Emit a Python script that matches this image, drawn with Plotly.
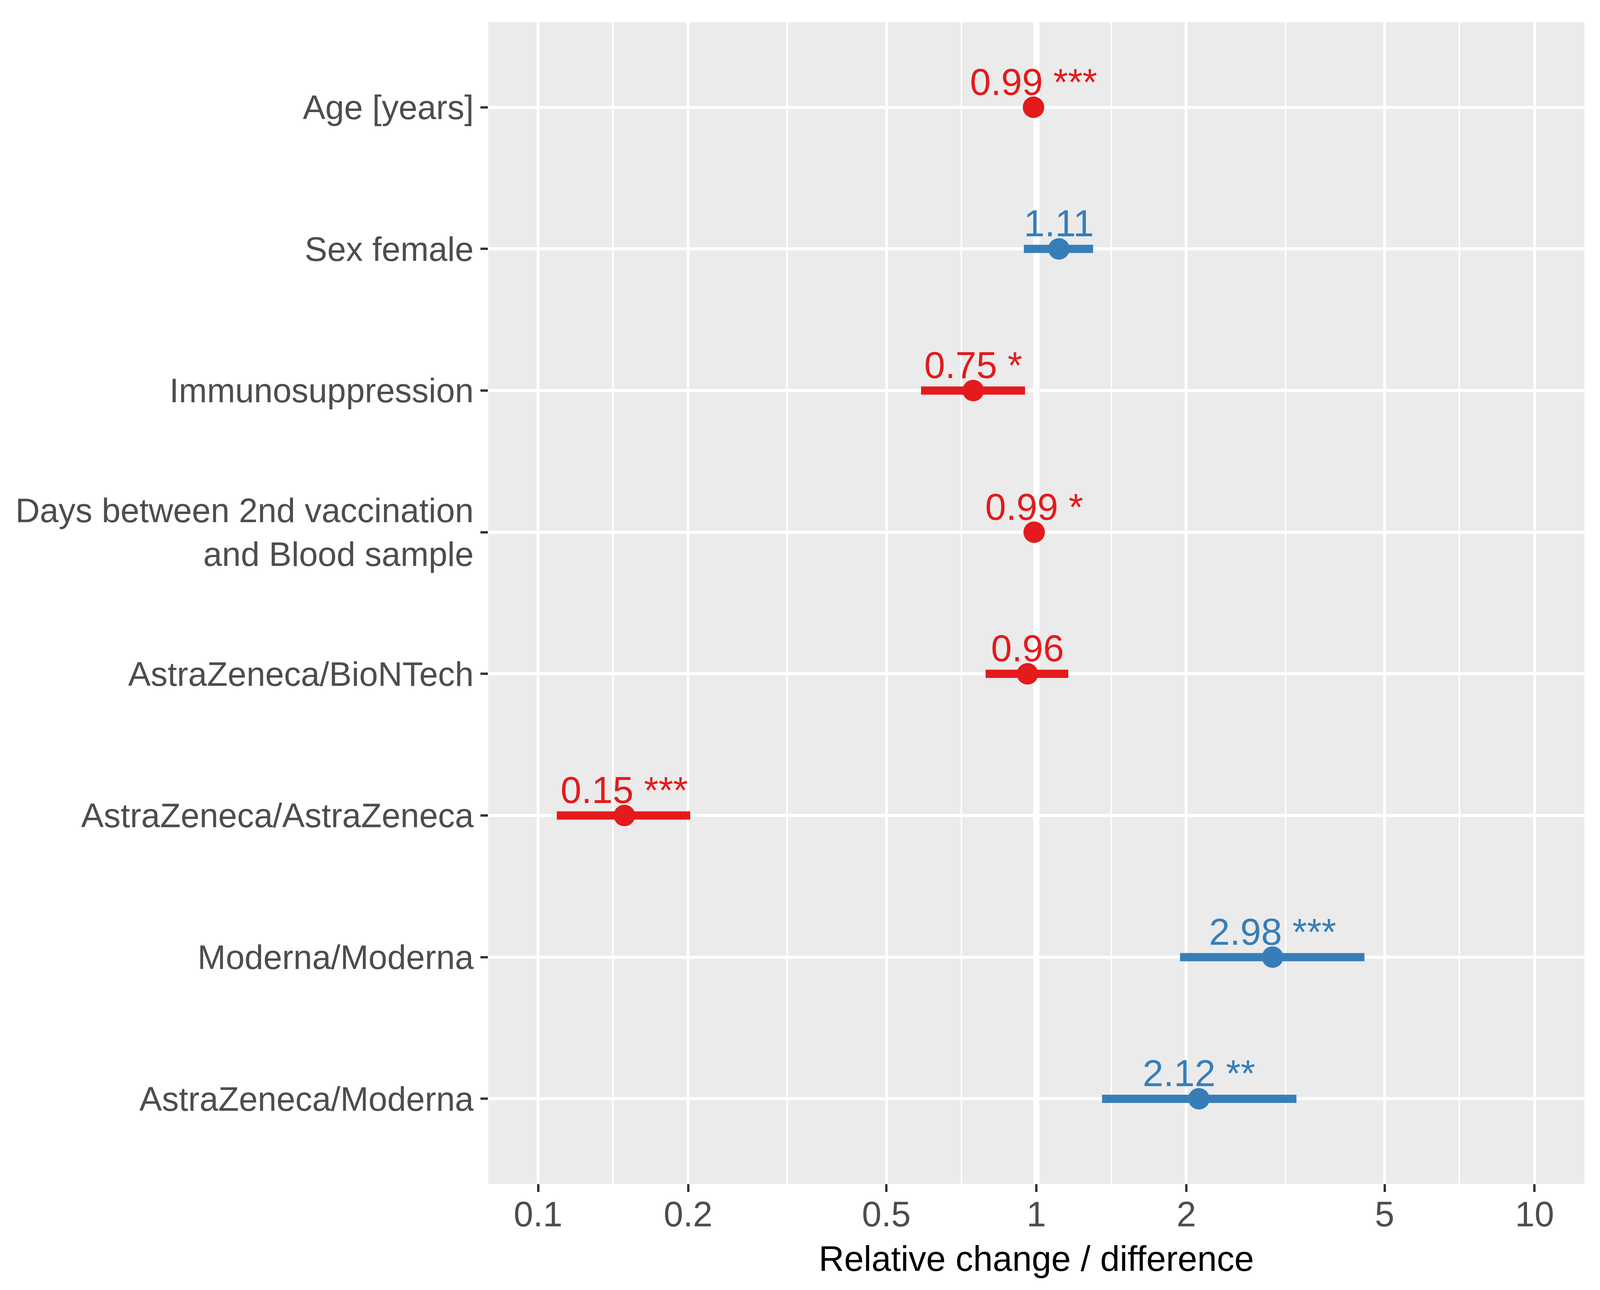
import plotly.graph_objects as go
import math

# ---- data (top to bottom as shown) ----
categories = [
    "Age [years]",
    "Sex female",
    "Immunosuppression",
    "Days between 2nd vaccination<br>and Blood sample",
    "AstraZeneca/BioNTech",
    "AstraZeneca/AstraZeneca",
    "Moderna/Moderna",
    "AstraZeneca/Moderna",
]
estimates = [0.987, 1.11, 0.747, 0.99, 0.96, 0.149, 2.98, 2.12]
ci_low = [0.984, 0.944, 0.587, 0.985, 0.791, 0.109, 1.943, 1.355]
ci_high = [0.991, 1.30, 0.949, 0.995, 1.159, 0.202, 4.556, 3.327]
stars = ["***", "", "*", "*", "", "***", "***", "**"]

x_ticks = [0.1, 0.2, 0.5, 1, 2, 5, 10]
x_tick_labels = ["0.1", "0.2", "0.5", "1", "2", "5", "10"]
x_minor = [0.1414, 0.3162, 0.7071, 1.4142, 3.1623, 7.0711]
ref_line = 1.0

RED = "#E41A1C"
BLUE = "#377EB8"
FONT = "Liberation Sans, Arial, sans-serif"

# the browser viewport is 4096 px wide; horizontal sizes are scaled to it
W, H = 4096, 3303
SX = W / 4354

n = len(categories)
ypos = [n - 1 - i for i in range(n)]  # top row gets the highest position
y_lo, y_hi = -0.6, n - 1 + 0.6

fig = go.Figure()

# reference line at 1 (drawn first, below the estimates)
fig.add_trace(go.Scatter(
    x=[ref_line, ref_line], y=[y_lo, y_hi], mode="lines",
    line=dict(color="white", width=17 * SX), hoverinfo="skip", showlegend=False,
))

for est, lo, hi, yp, st in zip(estimates, ci_low, ci_high, ypos, stars):
    col = RED if est < 1 else BLUE
    fig.add_trace(go.Scatter(
        x=[est], y=[yp], mode="markers",
        marker=dict(color=col, size=55, line=dict(width=0)),
        error_x=dict(type="data", symmetric=False, array=[hi - est],
                     arrayminus=[est - lo], color=col, thickness=21, width=0),
        showlegend=False,
    ))
    label = f"{est:.2f}" + (f" {st}" if st else "")
    fig.add_annotation(
        x=math.log10(est), y=yp, text=label, showarrow=False,
        xanchor="center", yanchor="bottom", yshift=10,
        font=dict(family=FONT, size=96, color=col),
    )

fig.update_layout(
    width=W, height=H,
    margin=dict(l=round(1329 * SX), r=round(42 * SX), t=57, b=272),
    paper_bgcolor="white", plot_bgcolor="#EBEBEB",
    font=dict(family=FONT, color="#4D4D4D"),
    xaxis=dict(
        type="log", range=[-1.1, 1.1],
        tickmode="array", tickvals=x_ticks, ticktext=x_tick_labels,
        showgrid=True, gridcolor="white", gridwidth=7.5 * SX,
        ticks="outside", ticklen=20, tickwidth=6 * SX, tickcolor="#333333",
        tickfont=dict(family=FONT, size=90, color="#4D4D4D"),
        ticklabelstandoff=-20,
        zeroline=False, showline=False,
        minor=dict(tickvals=x_minor, showgrid=True, gridcolor="white",
                   gridwidth=4.5 * SX, ticks=""),
        title=dict(text="Relative change / difference",
                   font=dict(family=FONT, size=90, color="black"), standoff=32),
    ),
    yaxis=dict(
        range=[y_lo, y_hi],
        tickmode="array", tickvals=ypos, ticktext=categories,
        showgrid=True, gridcolor="white", gridwidth=7.5,
        ticks="outside", ticklen=round(20 * SX), tickwidth=6, tickcolor="#333333",
        tickfont=dict(family=FONT, size=86.5, color="#4D4D4D"),
        zeroline=False, showline=False,
    ),
)

fig.write_html("out.html", config={"displayModeBar": False},
               post_script="document.body.style.margin = '0';")
